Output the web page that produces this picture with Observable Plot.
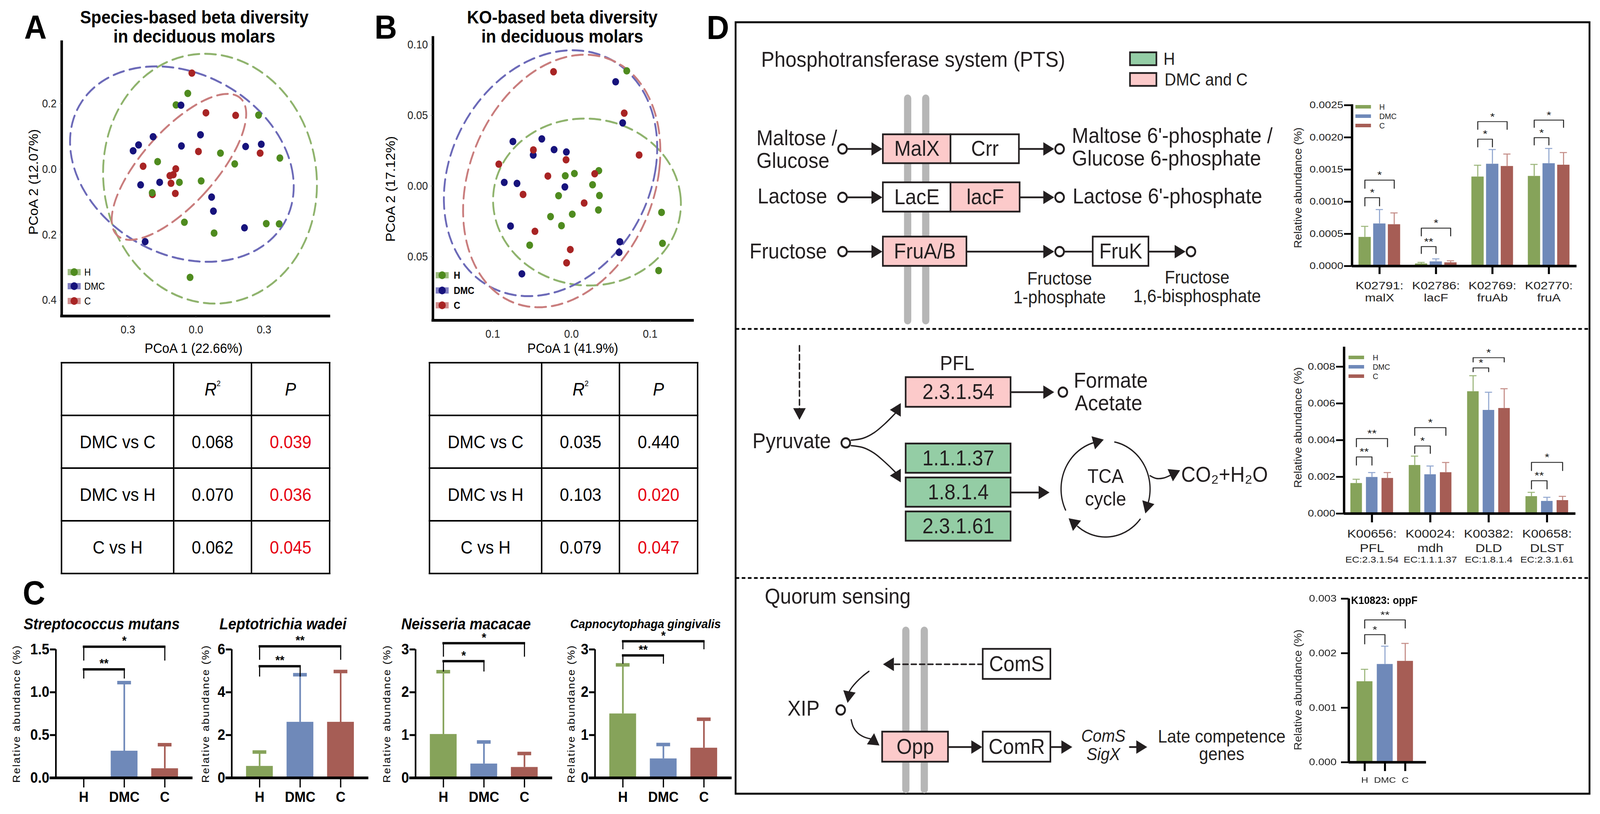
<!DOCTYPE html>
<html>
<head>
<meta charset="utf-8">
<script src="https://cdn.jsdelivr.net/npm/d3@7"></script>
<script src="https://cdn.jsdelivr.net/npm/@observablehq/plot@0.6"></script>
<style>
  html, body { margin: 0; padding: 0; background: #fff; width: 100%; height: 100%; overflow: hidden; }
  body { font-family: "Liberation Sans", Arial, Helvetica, sans-serif; color: #000; }
  #root { position: absolute; left: 0; top: 0; width: 4422px; height: 2085px; transform-origin: 0 0; background: #fff; }
  .abs { position: absolute; white-space: nowrap; line-height: 1; }
  table.stat { position: absolute; border-collapse: collapse; table-layout: fixed; font-size: 46px; font-family: "Liberation Sans", Arial, sans-serif; }
  table.stat td { border: 4px solid #000; text-align: center; vertical-align: middle; padding: 0; overflow: hidden; white-space: nowrap; }
  table.stat sup { font-size: 20px; vertical-align: 24px; line-height: 0; }
</style>
</head>
<body>
<div id="root"></div>
<script>
// ======================= DATA =======================
const groups = ["H", "DMC", "C"];

// Panel A : species-based PCoA  [PCoA1, PCoA2]
const A_H = [[-0.036,0.231],[-0.088,0.196],[0.276,0.165],[0.108,0.049],[0.370,0.034],[-0.169,0.023],[0.171,0.016],[-0.073,-0.040],[0.023,-0.036],[-0.193,-0.072],[-0.051,-0.162],[0.310,-0.166],[0.367,-0.167],[0.080,-0.195],[-0.026,-0.330]];
const A_DMC = [[-0.066,0.195],[-0.189,0.099],[0.020,0.105],[-0.253,0.074],[-0.277,0.056],[-0.064,0.071],[0.219,0.069],[0.288,0.076],[-0.244,-0.048],[-0.160,-0.040],[0.069,-0.085],[0.077,-0.128],[0.214,-0.179],[-0.224,-0.221]];
const A_C = [[-0.018,0.293],[0.044,0.172],[0.175,0.164],[0.011,0.054],[0.283,0.049],[-0.233,0.009],[-0.089,0.001],[-0.115,-0.020],[-0.100,-0.017],[-0.110,-0.043],[-0.091,-0.074],[-0.192,-0.077]];
// group ellipses: [cx, cy, axis1x, axis1y, axis2x, axis2y]
const A_ellH = [0.062,-0.029,-0.022,0.381,0.471,0];
const A_ellDMC = [-0.062,0.0155,-0.056,0.296,0.490,-0.035];
const A_ellC = [-0.075,0.007,0.275,0.207,0.111,-0.082];
const A_xTicks = [-0.3, 0, 0.3];
const A_yTicks = [-0.4, -0.2, 0, 0.2];

// Panel B : KO-based PCoA
const B_H = [[0.0702,0.0815],[0.0347,0.0109],[-0.0079,0.0073],[0.0037,0.0089],[0.0268,0.0009],[-0.0164,-0.0068],[0.0355,-0.0067],[0.0342,-0.0169],[0.0010,-0.0199],[-0.0266,-0.0216],[-0.0127,-0.0280],[0.1144,-0.0186],[0.1156,-0.0405],[-0.0531,-0.0418],[0.1107,-0.0598]];
const B_DMC = [[0.0561,0.0738],[0.0650,0.0447],[-0.0744,0.0315],[-0.0377,0.0334],[-0.0221,0.0258],[-0.0065,0.0241],[-0.0486,0.0219],[-0.0854,0.0026],[-0.0692,0.0019],[-0.0084,-0.0006],[-0.0774,-0.0283],[0.0615,-0.0394],[0.0605,-0.0469],[-0.0630,-0.0621]];
const B_C = [[-0.0228,0.0809],[0.0670,0.0516],[-0.0484,0.0256],[-0.0069,0.0186],[0.0859,0.0220],[-0.0923,0.0155],[-0.0300,0.0071],[0.0295,0.0087],[-0.0615,-0.0059],[0.0161,-0.0120],[-0.0464,-0.0320],[-0.0015,-0.0449],[-0.0062,-0.0543]];
const B_ellH = [0.0197,-0.0113,-0.0087,0.059,0.119,0.003];
const B_ellDMC = [-0.0266,0.0091,0.026,0.087,0.133,0.0014];
const B_ellC = [-0.0124,0.0036,0.018,0.089,0.124,0.0083];
const B_xTicks = [-0.1, 0, 0.1];
const B_yTicks = [-0.05, 0, 0.05, 0.10];

// PERMANOVA tables
const tableRows = ["DMC vs C", "DMC vs H", "C vs H"];
const tableA_R2 = [0.068, 0.070, 0.062];
const tableA_P = [0.039, 0.036, 0.045];
const tableB_R2 = [0.035, 0.103, 0.079];
const tableB_P = [0.440, 0.020, 0.047];

// Panel C : species relative abundance (mean, SD)
const C_species = ["Streptococcus mutans", "Leptotrichia wadei", "Neisseria macacae", "Capnocytophaga gingivalis"];
const C_H = [0, 0.55, 1.02, 1.50];
const C_DMC = [0.315, 2.61, 0.33, 0.45];
const C_C = [0.11, 2.61, 0.25, 0.70];
const C_H_sd = [0, 0.66, 1.46, 1.14];
const C_DMC_sd = [0.798, 2.21, 0.51, 0.33];
const C_C_sd = [0.278, 2.36, 0.32, 0.67];
const C_yMax = [1.5, 6, 3, 3];
const C_yTicks = [[0, 0.5, 1, 1.5], [0, 2, 4, 6], [0, 1, 2, 3], [0, 1, 2, 3]];
// [from, to, label, bracketTop, legBottom]
const C_sig1 = [["H","DMC","**",1.268,1.158],["H","C","*",1.532,1.368]];
const C_sig2 = [["H","DMC","**",5.216,4.724],["H","C","**",6.146,5.508]];
const C_sig3 = [["H","DMC","*",2.726,2.480],["H","C","*",3.145,2.826]];
const C_sig4 = [["H","DMC","**",2.862,2.662],["H","C","*",3.191,2.999]];

// Panel D bar charts
const D1_genes = ["K02791:\nmalX", "K02786:\nlacF", "K02769:\nfruAb", "K02770:\nfruA"];
const D1_H = [0.000450, 0.0000373, 0.001388, 0.001398];
const D1_DMC = [0.000659, 0.0000697, 0.001587, 0.001595];
const D1_C = [0.000647, 0.0000547, 0.001552, 0.001572];
const D1_H_sd = [0.000167, 0.0000197, 0.000179, 0.000182];
const D1_DMC_sd = [0.000219, 0.0000423, 0.000224, 0.000233];
const D1_C_sd = [0.000179, 0.0000273, 0.000189, 0.000192];
const D1_yTicks = [0, 0.0005, 0.001, 0.0015, 0.002, 0.0025];
// [gene, from, to, label, bracketTop, legBottom]
const D1_sig = [[0,"H","DMC","*",0.001062,0.000934],[0,"H","C","*",0.001335,0.001208],[1,"H","DMC","**",0.000303,0.000194],[1,"H","C","*",0.000589,0.000467],[2,"H","DMC","*",0.001972,0.001851],[2,"H","C","*",0.002245,0.002124],[3,"H","DMC","*",0.001996,0.001881],[3,"H","C","*",0.002269,0.002154]];

const D2_genes = ["K00656:\nPFL", "K00024:\nmdh", "K00382:\nDLD", "K00658:\nDLST"];
const D2_ec = ["EC:2.3.1.54", "EC:1.1.1.37", "EC:1.8.1.4", "EC:2.3.1.61"];
const D2_H = [0.001652, 0.002635, 0.006652, 0.000939];
const D2_DMC = [0.001983, 0.002130, 0.005635, 0.000678];
const D2_C = [0.001930, 0.002243, 0.005739, 0.000722];
const D2_H_sd = [0.000218, 0.000495, 0.000858, 0.000218];
const D2_DMC_sd = [0.000252, 0.000461, 0.000974, 0.000209];
const D2_C_sd = [0.000305, 0.000540, 0.001061, 0.000217];
const D2_yTicks = [0, 0.002, 0.004, 0.006, 0.008];
const D2_sig = [[0,"H","DMC","**",0.003085,0.002638],[0,"H","C","**",0.004085,0.003638],[1,"H","DMC","*",0.003681,0.003277],[1,"H","C","*",0.004681,0.004255],[2,"H","DMC","*",0.007936,0.007723],[2,"H","C","*",0.00849,0.008255],[3,"H","DMC","**",0.001787,0.00134],[3,"H","C","*",0.002787,0.00234]];

const D3_gene = "K10823: oppF";
const D3_H = [0.001482], D3_DMC = [0.001799], D3_C = [0.001856];
const D3_H_sd = [0.000223], D3_DMC_sd = [0.000330], D3_C_sd = [0.000324];
const D3_yTicks = [0, 0.001, 0.002, 0.003];
const D3_sig = [[0,"H","DMC","*",0.00234,0.00217],[0,"H","C","**",0.00261,0.00246]];

// ======================= STYLE / LAYOUT =======================
const ROOT = document.getElementById("root");
function fitRoot() {
  const sx = window.innerWidth / 4422, sy = window.innerHeight / 2085;
  ROOT.style.transform = (Math.abs(sx - 1) > 0.001 || Math.abs(sy - 1) > 0.001) ? `scale(${sx}, ${sy})` : "none";
}
fitRoot();
window.addEventListener("resize", fitRoot);

const FONT = "'Liberation Sans', Arial, Helvetica, sans-serif";
const INK = "#231f20";
const ptColor = {H: "#4f8b1f", DMC: "#17137c", C: "#a82424"};
const ellColor = {H: "#8fb36d", DMC: "#6c6ab8", C: "#c97d7d"};
const barColor = {H: "#86a35a", DMC: "#6f89b9", C: "#a65d55"};
const errColor = {H: "#9cb67b", DMC: "#93a8d0", C: "#c48d87"};
const STYLE = {background: "none", overflow: "visible", fontFamily: FONT, maxWidth: "none", color: "#000"};

function placeNode(node, left, top, width, extra) {
  const d = document.createElement("div");
  d.style.position = "absolute";
  d.style.left = left + "px";
  d.style.top = top + "px";
  if (width) d.style.width = width + "px";
  if (extra) Object.assign(d.style, extra);
  d.appendChild(node);
  ROOT.appendChild(d);
  return d;
}
function txt(s, x, y, o = {}) {
  const d = document.createElement("div");
  d.className = "abs";
  if (o.html) d.innerHTML = s; else d.textContent = s;
  d.style.left = x + "px";
  d.style.top = y + "px";
  d.style.fontSize = (o.size || 30) + "px";
  if (o.weight) d.style.fontWeight = o.weight;
  if (o.italic) d.style.fontStyle = "italic";
  if (o.color) d.style.color = o.color;
  if (o.ls) d.style.letterSpacing = o.ls + "px";
  const ax = o.anchor === "start" ? "0" : o.anchor === "end" ? "-100%" : "-50%";
  d.style.transform = `translate(${ax}, -50%)` + (o.rotate ? ` rotate(${o.rotate}deg)` : "");
  ROOT.appendChild(d);
  return d;
}
function box(x, y, w, h, bg, extra) {
  const d = document.createElement("div");
  d.style.position = "absolute";
  d.style.left = x + "px"; d.style.top = y + "px";
  d.style.width = w + "px"; d.style.height = h + "px";
  d.style.background = bg;
  if (extra) Object.assign(d.style, extra);
  ROOT.appendChild(d);
}

// ======================= PANEL D DIAGRAM (overlay, page px layout) =======================
const D_frame = [2033, 57, 4393, 2033];
const D_separators = [842, 1480];
const D_membranes = [[2508,252,821],[2558,252,821],[2503,1615,2022],[2554,1615,2022]];
const D_boxes = [
  [2440,344,2627,418,"MalX","#fccaca"],[2627,344,2816,418,"Crr","#ffffff"],
  [2440,467,2627,542,"LacE","#ffffff"],[2627,467,2818,542,"lacF","#fccaca"],
  [2440,606,2671,681,"FruA/B","#fccaca"],[3020,606,3174,681,"FruK","#ffffff"],
  [2503,966,2793,1042,"2.3.1.54","#fccaca"],
  [2503,1136,2793,1211,"1.1.1.37","#94cda5"],[2503,1223,2793,1298,"1.8.1.4","#94cda5"],[2503,1310,2793,1385,"2.3.1.61","#94cda5"],
  [2716,1662,2903,1739,"ComS","#ffffff"],[2438,1874,2620,1951,"Opp","#fccaca"],[2716,1874,2903,1951,"ComR","#ffffff"]
];
const D_legendBoxes = [[3123,134,3196,167,"","#94cda5"],[3123,187,3196,220,"","#fccaca"]];
const D_lines = [
  [[2342,381],[2410,381]], [[2816,381],[2885,381]],
  [[2342,505],[2410,505]], [[2818,505],[2885,505]],
  [[2342,644],[2410,644]], [[2671,644],[2885,644]], [[2942,644],[3020,644]], [[3174,644],[3248,644]],
  [[2793,1004],[2885,1004]], [[2793,1261],[2872,1261]],
  [[2620,1913],[2686,1913]], [[2903,1913],[2935,1913]], [[3122,1913],[3142,1913]]
];
const D_dashed = [[[2209,885],[2209,1047]], [[2716,1701],[2472,1701]]];
const D_curves = [
  [[2352,1127],[2385,1122],[2415,1108],[2445,1085],[2474,1058]],
  [[2352,1141],[2385,1146],[2415,1160],[2445,1183],[2474,1209]],
  [[2401,1719],[2383,1732],[2366,1747],[2354,1760],[2347,1770]],
  [[2352,1843],[2358,1862],[2370,1877],[2387,1887],[2405,1892]],
  [[3178,1218],[3195,1225],[3215,1224],[3234,1217]]
];
const D_tips = [[2438,381,0],[2913,381,0],[2438,505,0],[2913,505,0],[2438,644,0],[2913,644,0],[3276,644,0],
  [2913,1004,0],[2209,1075,90],[2489,1032,-60],[2489,1235,60],[2900,1261,0],[3261,1204,-25],
  [2440,1701,180],[2342,1800,100],[2430,1909,35],[2714,1913,0],[2963,1913,0],[3170,1913,0]];
const D_circles = [[2328,381],[2928,381],[2328,505],[2928,505],[2328,644],[2928,644],[3291,644],[2937,1004],[2337,1134],[2323,1818]];
const D_tca = [3055, 1252, 123];
const D_tcaArcs = [[154,254],[282,376],[39,130]];
const D_textsStart = [
  [2103,153,"Phosphotransferase system (PTS)",55],[3215,151,"H",44],[3218,204,"DMC and C",44],
  [2090,354,"Maltose /",55],[2090,412,"Glucose",55],[2962,348,"Maltose 6'-phosphate /",55],[2962,406,"Glucose 6-phosphate",55],
  [2093,503,"Lactose",55],[2964,503,"Lactose 6'-phosphate",55],[2071,644,"Fructose",55],
  [2967,975,"Formate",55],[2970,1033,"Acetate",55],[2079,1130,"Pyruvate",55],[3264,1216,"CO\u2082+H\u2082O",55],
  [2113,1528,"Quorum sensing",55],[2176,1815,"XIP",55]
];
const D_textsMiddle = [
  [2928,714,"Fructose",46],[2928,762,"1-phosphate",46],[3308,711,"Fructose",46],[3308,759,"1,6-bisphosphate",46],
  [2645,931,"PFL",52],[3055,1220,"TCA",50],[3055,1278,"cycle",50],[3376,1887,"Late competence",46],[3376,1932,"genes",46]
];
const D_textsItalic = [[3049,1885,"ComS",44],[3049,1932,"SigX",44]];

(function overlay() {
  const rad = a => a * Math.PI / 180;
  const lineRows = D_lines.flatMap((seg, k) => seg.map(([x, y]) => ({k, x, y})));
  const dashRows = D_dashed.flatMap((seg, k) => seg.map(([x, y]) => ({k, x, y})));
  const curveRows = D_curves.flatMap((seg, k) => seg.map(([x, y]) => ({k, x, y})));
  const [cx, cy, R] = D_tca;
  const tcaRows = [];
  const tips = D_tips.slice();
  D_tcaArcs.forEach(([a0, a1], k) => {
    for (let a = a0; a <= a1 + 0.001; a += 2) tcaRows.push({k, x: cx + R * Math.cos(rad(a)), y: cy + R * Math.sin(rad(a))});
    const px = cx + R * Math.cos(rad(a1)), py = cy + R * Math.sin(rad(a1)), th = a1 + 90;
    tips.push([px + 30 * Math.cos(rad(th)), py + 30 * Math.sin(rad(th)), th]);
  });
  const heads = tips.map(([x, y, th]) => ({x: x - 20 * Math.cos(rad(th)), y: y - 20 * Math.sin(rad(th)), rot: th + 90}));
  const marks = [
    Plot.rect([D_frame], {x1: d => d[0], y1: d => d[1], x2: d => d[2], y2: d => d[3], fill: "none", stroke: "#000", strokeWidth: 5}),
    Plot.ruleY(D_separators, {y: d => d, x1: D_frame[0], x2: D_frame[2], stroke: "#000", strokeWidth: 4.5, strokeDasharray: "10,7"}),
    Plot.ruleX(D_membranes, {x: d => d[0], y1: d => d[1], y2: d => d[2], stroke: "#b6b6b6", strokeWidth: 20, strokeLinecap: "round"}),
    Plot.line(lineRows, {x: "x", y: "y", z: "k", stroke: INK, strokeWidth: 4.5}),
    Plot.line(dashRows, {x: "x", y: "y", z: "k", stroke: INK, strokeWidth: 4, strokeDasharray: "14,9"}),
    Plot.line(curveRows, {x: "x", y: "y", z: "k", stroke: INK, strokeWidth: 3.5, curve: "catmull-rom"}),
    Plot.line(tcaRows, {x: "x", y: "y", z: "k", stroke: INK, strokeWidth: 3.5}),
    Plot.dot(heads, {x: "x", y: "y", rotate: "rot", symbol: "triangle", r: 12.9, fill: INK, stroke: "none"}),
    Plot.dot(D_circles, {x: d => d[0], y: d => d[1], r: 12, fill: "white", stroke: INK, strokeWidth: 5}),
    Plot.rect(D_boxes.concat(D_legendBoxes), {x1: d => d[0], y1: d => d[1], x2: d => d[2], y2: d => d[3], fill: d => d[5], stroke: INK, strokeWidth: 4.5}),
    Plot.text(D_boxes, {x: d => (d[0] + d[2]) / 2, y: d => (d[1] + d[3]) / 2, text: d => d[4], fontSize: 55, fill: INK}),
    Plot.text(D_textsStart, {x: d => d[0], y: d => d[1], text: d => d[2], fontSize: d => d[3], textAnchor: "start", fill: INK}),
    Plot.text(D_textsMiddle, {x: d => d[0], y: d => d[1], text: d => d[2], fontSize: d => d[3], textAnchor: "middle", fill: INK}),
    Plot.text(D_textsItalic, {x: d => d[0], y: d => d[1], text: d => d[2], fontSize: d => d[3], textAnchor: "middle", fontStyle: "italic", fill: INK})
  ];
  const svg = Plot.plot({
    width: 4422, height: 2085, margin: 0,
    x: {domain: [0, 4422], range: [0, 4422], axis: null},
    y: {domain: [0, 2085], range: [0, 2085], axis: null},
    color: {type: "identity"},
    style: STYLE, marks
  });
  placeNode(svg, 0, 0, 4422);
})();

// ======================= PANELS A & B (scatter) =======================
function ellipsePts(p) {
  const [cx, cy, ux, uy, vx, vy] = p;
  return d3.range(0, 361, 3).map(t => {
    const a = t * Math.PI / 180;
    return {x: cx + Math.cos(a) * vx + Math.sin(a) * ux, y: cy + Math.cos(a) * vy + Math.sin(a) * uy};
  });
}
function scatterPanel(cfg) {
  const [x0, y0, x1, y1] = cfg.frame;
  const ml = 140, mr = 30, mt = 30, mb = 90;
  const marks = [];
  for (const g of groups) marks.push(Plot.line(ellipsePts(cfg.ells[g]), {x: "x", y: "y", stroke: ellColor[g], strokeWidth: 5, strokeDasharray: "30,16"}));
  for (const g of cfg.order) marks.push(Plot.dot(cfg.series[g], {x: d => d[0], y: d => d[1], r: 9.5, fill: ptColor[g], stroke: "none"}));
  marks.push(Plot.ruleX([cfg.xdom[0]], {y1: cfg.ydom[0], y2: cfg.ydom[1], strokeWidth: 7, strokeLinecap: "square"}));
  marks.push(Plot.ruleY([cfg.ydom[0]], {x1: cfg.xdom[0], x2: cfg.xdom[1], strokeWidth: 7, strokeLinecap: "square"}));
  marks.push(Plot.axisX({ticks: cfg.xticks, tickFormat: cfg.xfmt, tickSize: 6, tickPadding: 18, fontSize: 29, stroke: "#777", fill: "#222", label: null}));
  marks.push(Plot.axisY({ticks: cfg.yticks, tickFormat: cfg.yfmt, tickSize: 6, tickPadding: 8, fontSize: 29, stroke: "#777", fill: "#222", label: null}));
  const W = x1 - x0 + ml + mr;
  const svg = Plot.plot({
    width: W, height: y1 - y0 + mt + mb,
    marginLeft: ml, marginRight: mr, marginTop: mt, marginBottom: mb,
    x: {domain: cfg.xdom}, y: {domain: cfg.ydom},
    style: STYLE, marks
  });
  placeNode(svg, x0 - ml, y0 - mt, W);
}
scatterPanel({
  frame: [170, 107, 909, 809], xdom: [-0.592, 0.587], ydom: [-0.448, 0.388],
  xticks: A_xTicks, yticks: A_yTicks,
  xfmt: d => Math.abs(d).toFixed(1), yfmt: d => Math.abs(d).toFixed(1),
  series: {H: A_H, DMC: A_DMC, C: A_C}, ells: {H: A_ellH, DMC: A_ellDMC, C: A_ellC}, order: ["C", "H", "DMC"]
});
scatterPanel({
  frame: [1196, 96, 1914, 820], xdom: [-0.176, 0.154], ydom: [-0.095, 0.105],
  xticks: B_xTicks, yticks: B_yTicks,
  xfmt: d => Math.abs(d).toFixed(1), yfmt: d => Math.abs(d).toFixed(2),
  series: {H: B_H, DMC: B_DMC, C: B_C}, ells: {H: B_ellH, DMC: B_ellDMC, C: B_ellC}, order: ["H", "DMC", "C"]
});

// scatter legends
function scatterLegend(xBar, ys, xLabel, bold) {
  groups.forEach((g, i) => {
    box(xBar, ys[i] - 8, 36, 16, ellColor[g], {opacity: "0.85"});
    box(xBar + 8, ys[i] - 10, 20, 20, ptColor[g], {borderRadius: "50%"});
    txt(g, xLabel, ys[i], {size: 25, anchor: "start", weight: bold ? "bold" : "normal"});
  });
}
scatterLegend(187, [697, 733, 771], 233, false);
scatterLegend(1204, [705, 744, 782], 1254, true);

// titles and axis titles A/B
txt("A", 67, 69, {size: 86, weight: "bold", anchor: "start"});
txt("B", 1035, 69, {size: 86, weight: "bold", anchor: "start"});
txt("C", 63, 1518, {size: 86, weight: "bold", anchor: "start"});
txt("D", 1953, 70, {size: 86, weight: "bold", anchor: "start"});
txt("Species-based beta diversity", 537, 44, {size: 46, weight: "bold"});
txt("in deciduous molars", 537, 93, {size: 46, weight: "bold"});
txt("KO-based beta diversity", 1554, 44, {size: 46, weight: "bold"});
txt("in deciduous molars", 1554, 93, {size: 46, weight: "bold"});
txt("PCoA 1 (22.66%)", 535, 891, {size: 35});
txt("PCoA 2 (12.07%)", 92, 466, {size: 35, rotate: -90});
txt("PCoA 1 (41.9%)", 1583, 891, {size: 35});
txt("PCoA 2 (17.12%)", 1079, 484, {size: 35, rotate: -90});

// ======================= TABLES =======================
const tableColW = [310, 215, 216];
function statTable(left, top, r2, p) {
  const t = document.createElement("table");
  t.className = "stat";
  t.style.left = (left - 2) + "px";
  t.style.top = (top - 2) + "px";
  t.style.width = (tableColW[0] + tableColW[1] + tableColW[2] + 4) + "px";
  const w = i => `style="width:${tableColW[i]}px"`;
  let h = `<colgroup><col ${w(0)}><col ${w(1)}><col ${w(2)}></colgroup>`;
  h += `<tr style="height:135px"><td ${w(0)}></td><td ${w(1)}><i>R</i><sup>2</sup></td><td ${w(2)}><i>P</i></td></tr>`;
  tableRows.forEach((r, i) => {
    const col = p[i] < 0.05 ? "#e60012" : "#000";
    h += `<tr style="height:135px"><td>${r}</td><td>${r2[i].toFixed(3)}</td><td style="color:${col}">${p[i].toFixed(3)}</td></tr>`;
  });
  t.innerHTML = h;
  ROOT.appendChild(t);
}
statTable(170, 929, tableA_R2, tableA_P);
statTable(1187, 929, tableB_R2, tableB_P);

// ======================= PANEL C =======================
const C_axisX = [154, 640, 1148, 1644];
const C_titleX = [281, 782, 1288, 1784];
const C_ytitleX = [46, 569, 1069, 1579];
const C_sigs = [C_sig1, C_sig2, C_sig3, C_sig4];
function cPanel(i) {
  const L = C_axisX[i], step = 112, first = 77;
  const x0 = L, x1 = L + 378, y0 = 1663, y1 = 1992;
  const xdom = [-first / step, (378 - first) / step];
  const means = [C_H[i], C_DMC[i], C_C[i]], sds = [C_H_sd[i], C_DMC_sd[i], C_C_sd[i]];
  const rows = groups.map((g, j) => ({j, g, v: means[j], e: means[j] + sds[j]})).filter(d => d.v > 0);
  const hw = 37 / step, cw = 19 / step;
  const sig = C_sigs[i];
  const legs = sig.flatMap(s => [
    {x: groups.indexOf(s[0]), top: s[3], leg: s[4]},
    {x: groups.indexOf(s[1]), top: s[3], leg: s[4]}
  ]);
  const marks = [
    Plot.rect(rows, {x1: d => d.j - hw, x2: d => d.j + hw, y1: 0, y2: "v", fill: d => barColor[d.g]}),
    Plot.ruleX(rows, {x: "j", y1: "v", y2: "e", stroke: d => barColor[d.g], strokeWidth: 4.5}),
    Plot.ruleY(rows, {y: "e", x1: d => d.j - cw, x2: d => d.j + cw, stroke: d => barColor[d.g], strokeWidth: 9}),
    Plot.ruleX([xdom[0]], {y1: 0, y2: C_yMax[i], strokeWidth: 4.5}),
    Plot.ruleY([0], {x1: xdom[0] - 17 / step, x2: xdom[1], strokeWidth: 7}),
    Plot.axisY({ticks: C_yTicks[i], tickFormat: i === 0 ? d => d.toFixed(1) : d => String(d), tickSize: 16, tickPadding: 2, strokeWidth: 5, fontSize: 38, fontWeight: "bold", label: null}),
    Plot.axisX({ticks: [0, 1, 2], tickFormat: j => groups[j], tickSize: 25, tickPadding: 10, strokeWidth: 3.5, fontSize: 37, fontWeight: "bold", label: null}),
    Plot.ruleX(legs, {x: "x", y1: "leg", y2: "top", strokeWidth: 3}),
    Plot.ruleY(sig, {y: s => s[3], x1: s => groups.indexOf(s[0]) - 0.02, x2: s => groups.indexOf(s[1]) + 0.02, strokeWidth: 6}),
    Plot.text(sig, {x: s => (groups.indexOf(s[0]) + groups.indexOf(s[1])) / 2, y: s => s[3], text: s => s[2], fontSize: 32, fontWeight: "bold", lineAnchor: "bottom", dy: -4})
  ];
  const ml = 90, mr = 10, mt = 60, mb = 90;
  const W = x1 - x0 + ml + mr;
  const svg = Plot.plot({
    width: W, height: y1 - y0 + mt + mb,
    marginLeft: ml, marginRight: mr, marginTop: mt, marginBottom: mb,
    x: {domain: xdom}, y: {domain: [0, C_yMax[i]]},
    color: {type: "identity"},
    style: STYLE, marks
  });
  placeNode(svg, x0 - ml, y0 - mt, W);
  txt(C_species[i], C_titleX[i], 1598, {size: i === 3 ? 32 : 40, weight: "bold", italic: true});
  txt("Relative abundance (%)", C_ytitleX[i], 1828, {size: 28, ls: 2.5, rotate: -90});
}
[0, 1, 2, 3].forEach(cPanel);

// ======================= PANEL D BAR CHARTS =======================
function dChart(cfg) {
  const S = 1.27;
  const [fx0, fy0, fx1, fy1] = cfg.frame;
  const ml = 130, mr = 20, mt = 60, mb = 150;
  const innerW = (fx1 - fx0) / S, innerH = fy1 - fy0;
  const W = innerW + ml + mr, H = innerH + mt + mb;
  const xdom = [(fx0 - cfg.g0) / cfg.gstep, (fx1 - cfg.g0) / cfg.gstep];
  const pos = (gi, si) => gi + (si - 1) * cfg.off;
  const marks = [];
  cfg.means.forEach((arr, si) => {
    const g = groups[si];
    const rows = arr.map((v, gi) => ({x: pos(gi, si), v, e: v + cfg.sds[si][gi]}));
    marks.push(Plot.rect(rows, {x1: d => d.x - cfg.halfW, x2: d => d.x + cfg.halfW, y1: 0, y2: "v", fill: barColor[g]}));
    marks.push(Plot.ruleX(rows, {x: "x", y1: "v", y2: "e", stroke: errColor[g], strokeWidth: 2.4}));
    marks.push(Plot.ruleY(rows, {y: "e", x1: d => d.x - cfg.capW, x2: d => d.x + cfg.capW, stroke: errColor[g], strokeWidth: 2.6}));
  });
  marks.push(Plot.ruleX([xdom[0]], {y1: 0, y2: cfg.ytop, strokeWidth: 5.2}));
  marks.push(Plot.ruleY([0], {x1: xdom[0], x2: xdom[1], strokeWidth: 6.5}));
  marks.push(Plot.axisY({ticks: cfg.yticks, tickFormat: cfg.yfmt, tickSize: cfg.ytickSize, tickPadding: cfg.ytickPad, strokeWidth: 4.5, fontSize: 24, fill: "#222", label: null}));
  marks.push(Plot.axisX({ticks: cfg.xticks, tickFormat: (d, i) => cfg.xlabels[i], tickSize: cfg.xtickSize, tickPadding: cfg.xtickPad, strokeWidth: 4.4, fontSize: cfg.xfont, lineHeight: cfg.lineHeight, fill: "#222", label: null}));
  const bpts = [];
  cfg.sig.forEach((s, k) => {
    const xa = pos(s[0], groups.indexOf(s[1])), xb = pos(s[0], groups.indexOf(s[2]));
    bpts.push({k, x: xa, y: s[5]}, {k, x: xa, y: s[4]}, {k, x: xb, y: s[4]}, {k, x: xb, y: s[5]});
  });
  marks.push(Plot.line(bpts, {x: "x", y: "y", z: "k", stroke: "#2a2a2a", strokeWidth: 2.2}));
  marks.push(Plot.text(cfg.sig, {x: s => (pos(s[0], groups.indexOf(s[1])) + pos(s[0], groups.indexOf(s[2]))) / 2, y: s => s[4], text: s => s[3], fontSize: 26, lineAnchor: "bottom", dy: -4, fill: "#111"}));
  if (cfg.extra) marks.push(...cfg.extra);
  const svg = Plot.plot({
    width: W, height: H,
    marginLeft: ml, marginRight: mr, marginTop: mt, marginBottom: mb,
    x: {domain: xdom}, y: {domain: [0, cfg.ytop]},
    style: STYLE, marks
  });
  placeNode(svg, fx0 - ml * S, fy0 - mt, W, {transform: `scaleX(${S})`, transformOrigin: "0 0"});
}
dChart({
  frame: [3736, 267, 4357, 681], ytop: 0.002512, yticks: D1_yTicks, yfmt: d => d.toFixed(4),
  g0: 3812, gstep: 156, off: 0.26, halfW: 0.109, capW: 0.064,
  means: [D1_H, D1_DMC, D1_C], sds: [D1_H_sd, D1_DMC_sd, D1_C_sd],
  xticks: [0, 1, 2, 3], xlabels: D1_genes, xfont: 28, lineHeight: 1.12,
  ytickSize: 17, ytickPad: 2, xtickSize: 21, xtickPad: 16, sig: D1_sig
});
dChart({
  frame: [3714, 888, 4354, 1315], ytop: 0.00908, yticks: D2_yTicks, yfmt: d => d.toFixed(3),
  g0: 3791, gstep: 161.3, off: 0.2666, halfW: 0.099, capW: 0.062,
  means: [D2_H, D2_DMC, D2_C], sds: [D2_H_sd, D2_DMC_sd, D2_C_sd],
  xticks: [0, 1, 2, 3], xlabels: D2_genes, xfont: 29, lineHeight: 1.28,
  ytickSize: 17, ytickPad: 2, xtickSize: 23, xtickPad: 12, sig: D2_sig,
  extra: [Plot.text(D2_ec, {x: (d, i) => i, y: () => 0, text: d => d, dy: 118, fontSize: 22, fill: "#222"})]
});
dChart({
  frame: [3727, 1533, 3941, 1952], ytop: 0.003, yticks: D3_yTicks, yfmt: d => d.toFixed(3),
  g0: 3827, gstep: 56, off: 1, halfW: 0.393, capW: 0.18,
  means: [D3_H, D3_DMC, D3_C], sds: [D3_H_sd, D3_DMC_sd, D3_C_sd],
  xticks: [-1, 0, 1], xlabels: groups, xfont: 21, lineHeight: 1,
  ytickSize: 16.5, ytickPad: 10, xtickSize: 23, xtickPad: 15, sig: D3_sig
});
// D axis titles, legends, chart title
txt("Relative abundance (%)", 3588, 481, {size: 29, rotate: -90, color: "#222"});
txt("Relative abundance (%)", 3588, 1095, {size: 29, rotate: -90, color: "#222"});
txt("Relative abundance (%)", 3588, 1767, {size: 29, rotate: -90, color: "#222"});
function dLegend(xs, ys, xl) {
  groups.forEach((g, i) => {
    box(xs, ys[i] - 4.5, 43, 9, barColor[g]);
    txt(g, xl, ys[i], {size: 21, anchor: "start", color: "#222"});
  });
}
dLegend(3746, [273, 297, 321], 3812);
dLegend(3727, [915, 939, 963], 3794);
txt(D3_gene, 3734, 1538, {size: 28, weight: "bold", anchor: "start"});
</script>
</body>
</html>
